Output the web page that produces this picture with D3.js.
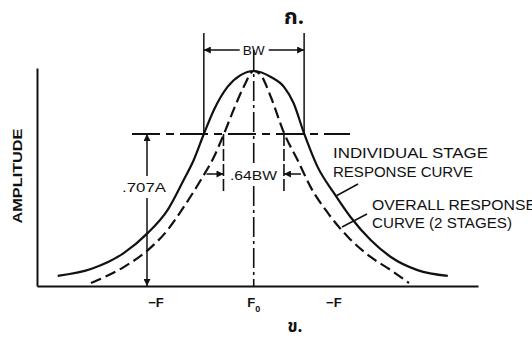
<!DOCTYPE html>
<html><head><meta charset="utf-8">
<script src="https://cdn.jsdelivr.net/npm/d3@7/dist/d3.min.js"></script>
<style>
html,body{margin:0;padding:0;background:#fff;}
svg text{font-family:"Liberation Sans",Arial,Helvetica,sans-serif;fill:#111;}
</style></head>
<body><svg id="c" width="532" height="341"></svg>
<script>
// Frequency offset from F0 (units: half-bandwidth of one stage) and relative amplitude
const individualFreq = [-3.89,-3.23,-2.58,-2.10,-1.71,-1.39,-1.19,-0.99,-0.79,-0.52,-0.26,0,0.34,0.60,0.79,0.99,1.27,1.59,1.92,2.32,2.72,3.25,3.85];
const individualAmp  = [0.047,0.079,0.153,0.247,0.353,0.493,0.586,0.707,0.819,0.926,0.981,1,0.972,0.926,0.851,0.716,0.553,0.433,0.321,0.214,0.135,0.074,0.047];
const overallFreq = [-3.23,-2.58,-2.10,-1.71,-1.39,-1.05,-0.79,-0.60,-0.40,-0.20,0,0.14,0.34,0.60,0.87,1.13,1.47,1.87,2.32,2.72,3.08];
const overallAmp  = [0.014,0.088,0.167,0.260,0.367,0.493,0.600,0.702,0.819,0.926,1,0.981,0.879,0.712,0.586,0.460,0.340,0.228,0.135,0.074,0.014];
const halfPowerLevel = 0.707;
const bwEdges = [-0.99, 1.0];
const bw64Edges = [-0.60, 0.60];
const tickPos = [-1.94, 0, 1.59];
const tickLabels = ["\u2212F", "F", "\u2212F"];
const curveLabels = ["INDIVIDUAL STAGE","RESPONSE CURVE","OVERALL RESPONSE","CURVE (2 STAGES)"];

const svg = d3.select("#c");
const x = d3.scaleLinear().domain([-4.3, 4.45]).range([37, 478]);
const y = d3.scaleLinear().domain([0, 1]).range([286, 71]);

const defs = svg.append("defs");
defs.append("marker").attr("id","ah").attr("viewBox","0 0 10 10").attr("refX",10).attr("refY",5)
  .attr("markerWidth",9).attr("markerHeight",7).attr("markerUnits","userSpaceOnUse").attr("orient","auto")
  .append("path").attr("d","M0,0L10,5L0,10Z").attr("fill","#111");

const ink = "#111";
// axes
svg.append("g").attr("transform",`translate(0,${y(0)})`).call(d3.axisBottom(x).tickValues([]).tickSizeOuter(0))
  .call(g=>g.select(".domain").attr("stroke",ink).attr("stroke-width",2));
const yScaleAxis = d3.scaleLinear().domain([0,1]).range([286,68]);
svg.append("g").attr("transform",`translate(${x(-4.3)},0)`).call(d3.axisLeft(yScaleAxis).tickValues([]).tickSizeOuter(0))
  .call(g=>g.select(".domain").attr("stroke",ink).attr("stroke-width",2));

// curves
const line = d3.line().x(d=>x(d[0])).y(d=>y(d[1])).curve(d3.curveMonotoneX);
svg.append("path").datum(individualFreq.map((f,i)=>[f,individualAmp[i]]))
  .attr("d",line).attr("fill","none").attr("stroke",ink).attr("stroke-width",2.2);
svg.append("path").datum(overallFreq.map((f,i)=>[f,overallAmp[i]]))
  .attr("d",line).attr("fill","none").attr("stroke",ink).attr("stroke-width",2.2).attr("stroke-dasharray","11,5");

// half-power dash-dot line
const yL = y(halfPowerLevel);
svg.append("line").attr("x1",132).attr("x2",350).attr("y1",yL).attr("y2",yL)
  .attr("stroke",ink).attr("stroke-width",2).attr("stroke-dasharray","28,6,8,6");
// center line (broken around the .64BW label)
[[50,166],[186,y(0)]].forEach(s=>{
  svg.append("line").attr("x1",x(0)).attr("x2",x(0)).attr("y1",s[0]).attr("y2",s[1])
    .attr("stroke",ink).attr("stroke-width",1.6).attr("stroke-dasharray","20,4,3,4");
});

// BW extension lines and arrows
bwEdges.forEach(e=>{
  svg.append("line").attr("x1",x(e)).attr("x2",x(e)).attr("y1",33).attr("y2",yL)
    .attr("stroke",ink).attr("stroke-width",1.5);
});
svg.append("line").attr("x1",x(0)-14).attr("x2",x(bwEdges[0])).attr("y1",50).attr("y2",50)
  .attr("stroke",ink).attr("stroke-width",1.5).attr("marker-end","url(#ah)");
svg.append("line").attr("x1",x(0)+15).attr("x2",x(bwEdges[1])).attr("y1",50).attr("y2",50)
  .attr("stroke",ink).attr("stroke-width",1.5).attr("marker-end","url(#ah)");
svg.append("text").attr("x",x(0)).attr("y",55).attr("text-anchor","middle").attr("font-size",12)
  .attr("textLength",22).attr("lengthAdjust","spacingAndGlyphs").text("BW");

// .64BW lines and arrows
bw64Edges.forEach(e=>{
  svg.append("line").attr("x1",x(e)).attr("x2",x(e)).attr("y1",yL).attr("y2",193)
    .attr("stroke",ink).attr("stroke-width",1.6).attr("stroke-dasharray","12,3");
});
svg.append("line").attr("x1",x(bw64Edges[0])-17).attr("x2",x(bw64Edges[0])).attr("y1",174).attr("y2",174)
  .attr("stroke",ink).attr("stroke-width",1.5).attr("marker-end","url(#ah)");
svg.append("line").attr("x1",x(bw64Edges[1])+17).attr("x2",x(bw64Edges[1])).attr("y1",174).attr("y2",174)
  .attr("stroke",ink).attr("stroke-width",1.5).attr("marker-end","url(#ah)");
svg.append("text").attr("x",230).attr("y",180).attr("font-size",13)
  .attr("textLength",47).attr("lengthAdjust","spacingAndGlyphs").text(".64BW");

// .707A arrow
const xa = 147;
svg.append("line").attr("x1",xa).attr("x2",xa).attr("y1",176).attr("y2",yL)
  .attr("stroke",ink).attr("stroke-width",1.5).attr("marker-end","url(#ah)");
svg.append("line").attr("x1",xa).attr("x2",xa).attr("y1",198).attr("y2",y(0))
  .attr("stroke",ink).attr("stroke-width",1.5).attr("marker-end","url(#ah)");
svg.append("text").attr("x",122).attr("y",192).attr("font-size",13)
  .attr("textLength",44).attr("lengthAdjust","spacingAndGlyphs").text(".707A");

// curve labels and leaders
const lab = [[333,158,155],[333,177,140],[372,210,164],[372,228,140]];
curveLabels.forEach((t,i)=>{
  svg.append("text").attr("x",lab[i][0]).attr("y",lab[i][1]).attr("font-size",14)
    .attr("textLength",lab[i][2]).attr("lengthAdjust","spacingAndGlyphs").text(t);
});
svg.append("line").attr("x1",358).attr("y1",184).attr("x2",336).attr("y2",196).attr("stroke",ink).attr("stroke-width",1.5);
svg.append("line").attr("x1",367).attr("y1",214).attr("x2",342).attr("y2",227).attr("stroke",ink).attr("stroke-width",1.5);

// axis title
svg.append("text").attr("transform","translate(22,176) rotate(-90)").attr("text-anchor","middle")
  .attr("font-size",13).attr("font-weight","bold").attr("textLength",95).attr("lengthAdjust","spacingAndGlyphs").text("AMPLITUDE");

// tick labels
tickPos.forEach((p,i)=>{
  const t = svg.append("text").attr("x",x(p)).attr("y",307).attr("text-anchor","middle")
    .attr("font-size",13).attr("font-weight","bold");
  t.append("tspan").text(tickLabels[i]);
  if (i===1) t.append("tspan").attr("dy",5).attr("font-size",9).text("0");
});

// Thai captions
svg.append("text").attr("x",294).attr("y",24).attr("text-anchor","middle").attr("font-size",22)
  .attr("font-weight","bold").style("font-family","'Noto Sans Thai','Loma','Garuda',sans-serif").text("ก.");
svg.append("text").attr("x",295).attr("y",332).attr("text-anchor","middle").attr("font-size",17)
  .attr("font-weight","bold").style("font-family","'Noto Sans Thai','Loma','Garuda',sans-serif").text("ข.");
</script></body></html>
